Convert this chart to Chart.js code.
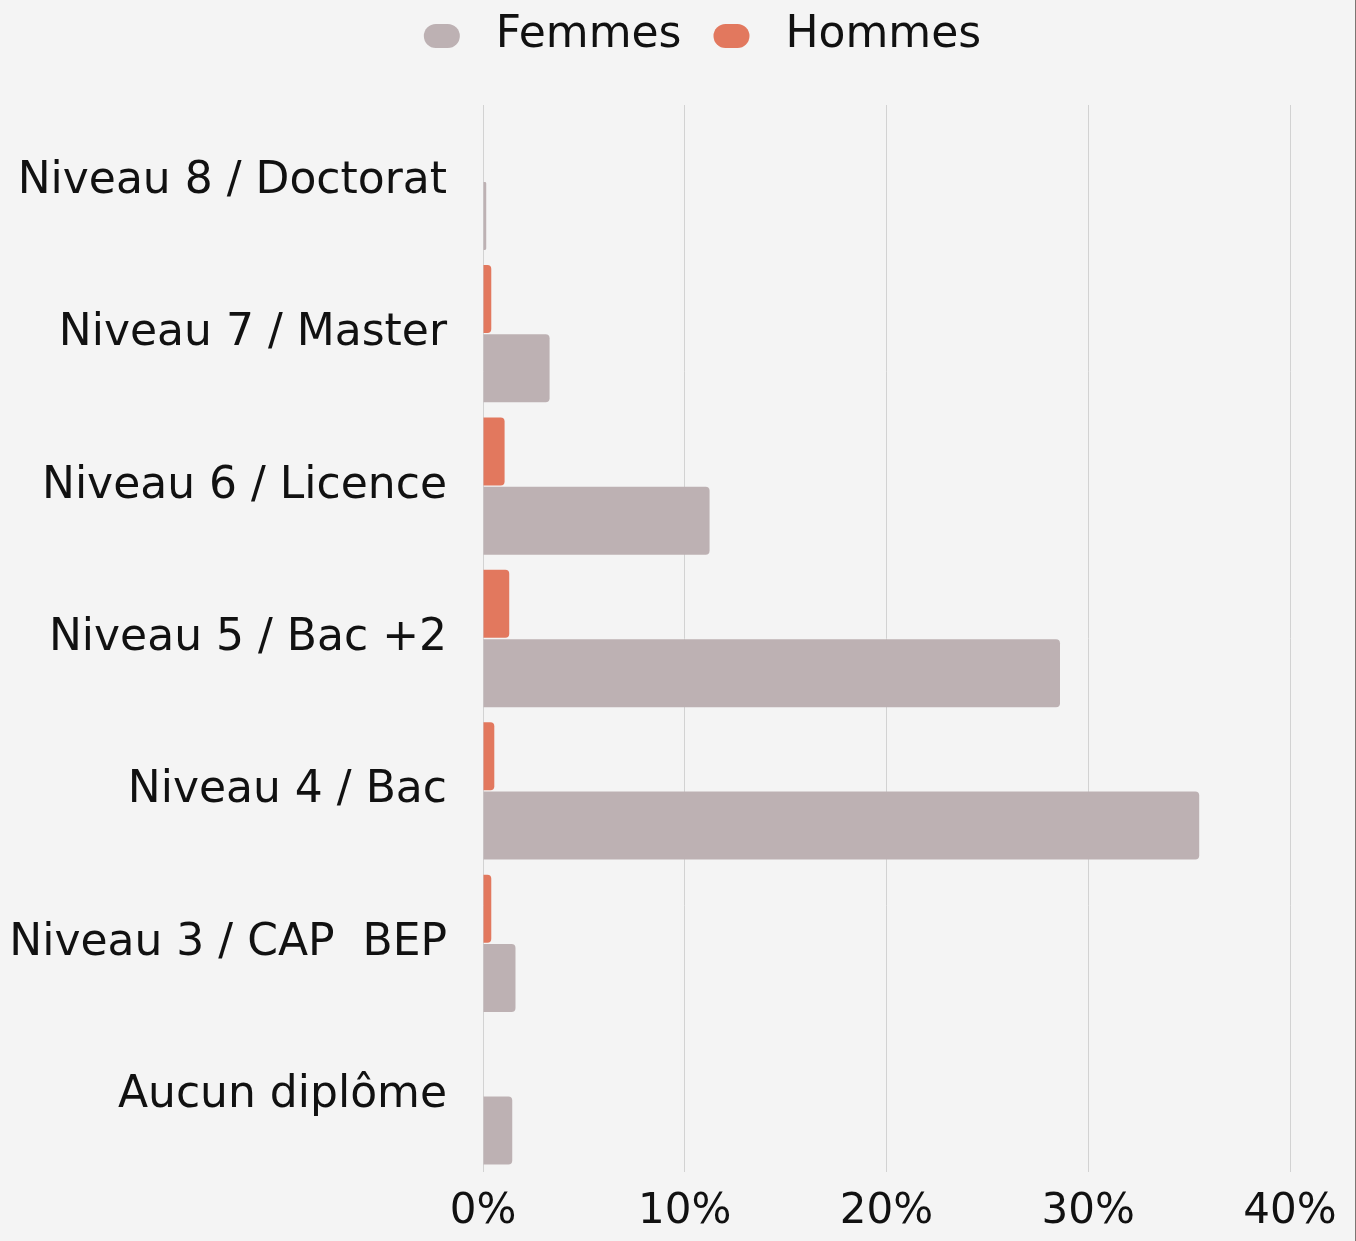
<!DOCTYPE html>
<html>
<head>
<meta charset="utf-8">
<script src="https://cdn.jsdelivr.net/npm/chart.js@4/dist/chart.umd.min.js"></script>
<style>
  html, body { margin: 0; padding: 0; background: #F4F4F4; }
  #wrap { width: 1355px; height: 1241px; border-right: 1px solid #7D7673; position: relative; background: #F4F4F4; }
</style>
</head>
<body>
<div id="wrap"><canvas id="c"></canvas></div>
<script>
const categories = [
  'Niveau 8 / Doctorat',
  'Niveau 7 / Master',
  'Niveau 6 / Licence',
  'Niveau 5 / Bac +2',
  'Niveau 4 / Bac',
  'Niveau 3 / CAP  BEP',
  'Aucun diplôme'
];
const femmes = [0.16, 3.3, 11.23, 28.6, 35.5, 1.61, 1.45];
const hommes = [0, 0.41, 1.07, 1.3, 0.56, 0.41, 0];
const xTicks = [0, 10, 20, 30, 40];

const FONT = 'DejaVu Sans';

const legendTweak = {
  id: 'legendTweak',
  beforeInit(chart) {
    const lg = chart.legend;
    const origFit = lg.fit;
    lg.fit = function () {
      origFit.call(this);
      this.height = 105;
    };
    const origDraw = lg.draw;
    lg.draw = function () {
      const ctx = this.ctx;
      ctx.save();
      ctx.translate(32, -4);
      origDraw.apply(this, arguments);
      ctx.restore();
    };
  }
};

new Chart(document.getElementById('c'), {
  type: 'bar',
  data: {
    labels: categories,
    datasets: [
      { label: 'Hommes', data: hommes, backgroundColor: '#E2785E', borderWidth: 0, borderRadius: 4,
        categoryPercentage: 0.91, barPercentage: 0.98 },
      { label: 'Femmes', data: femmes, backgroundColor: '#BDB1B3', borderWidth: 0, borderRadius: 4,
        categoryPercentage: 0.91, barPercentage: 0.98 }
    ]
  },
  plugins: [legendTweak],
  options: {
    indexAxis: 'y',
    responsive: true,
    maintainAspectRatio: false,
    animation: false,
    layout: { padding: { left: 0, right: 0, top: 0, bottom: 0 } },
    plugins: {
      tooltip: { enabled: false },
      legend: {
        position: 'top',
        reverse: true,
        labels: {
          font: { family: FONT, size: 44 },
          color: '#111111',
          boxWidth: 36,
          boxHeight: 24,
          useBorderRadius: true,
          borderRadius: 12,
          padding: 18,
          generateLabels(chart) {
            const items = Chart.defaults.plugins.legend.labels.generateLabels(chart);
            items.forEach(it => { it.text = ' ' + it.text + ' '; it.lineWidth = 0; });
            return items;
          }
        }
      }
    },
    scales: {
      x: {
        min: 0, max: 40,
        afterBuildTicks(scale) { scale.ticks = xTicks.map(v => ({ value: v })); },
        afterFit(scale) { scale.height = 69; scale.paddingRight = 65; scale.paddingLeft = 0; },
        grid: { color: '#D2D2D2', lineWidth: 1, drawTicks: false },
        border: { display: false },
        ticks: {
          font: { family: FONT, size: 42 },
          color: '#111111',
          padding: 15,
          callback: v => v + '%'
        }
      },
      y: {
        afterFit(scale) { scale.width = 483; },
        grid: { display: false, drawTicks: false },
        border: { display: false },
        ticks: {
          font: { family: FONT, size: 44 },
          color: '#111111',
          padding: 36
        }
      }
    }
  }
});
</script>
</body>
</html>
